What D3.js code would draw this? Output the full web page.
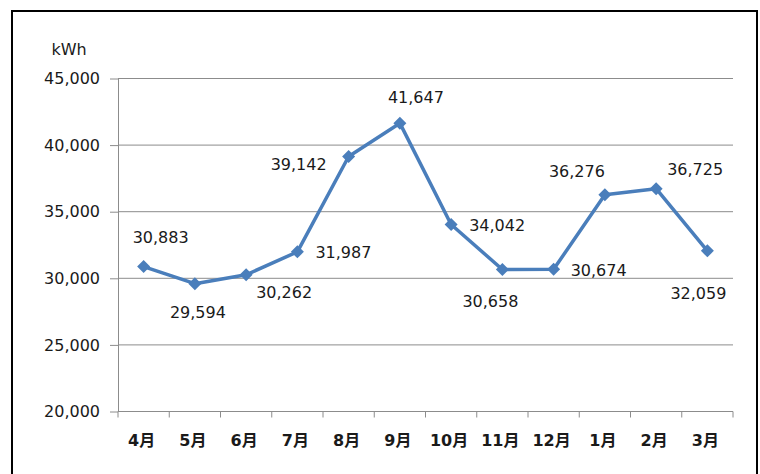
<!DOCTYPE html>
<html>
<head>
<meta charset="utf-8">
<script src="https://cdn.jsdelivr.net/npm/d3@7"></script>
<style>
  html, body { margin: 0; padding: 0; background: #fff; }
  svg { display: block; }
  text { font-family: "DejaVu Sans", "Noto Sans CJK JP", sans-serif; fill: #1a1a1a; }
</style>
</head>
<body>
<svg id="chart" width="760" height="474"></svg>
<script>
// Monthly electricity use (kWh), fiscal year April → March
const months = ["4月", "5月", "6月", "7月", "8月", "9月", "10月", "11月", "12月", "1月", "2月", "3月"];
const usage = [30883, 29594, 30262, 31987, 39142, 41647, 34042, 30658, 30674, 36276, 36725, 32059];
const yTicks = [20000, 25000, 30000, 35000, 40000, 45000];
const unitLabel = "kWh";

// Placement of each value label relative to its marker: [dx, dy to baseline]
const labelOffsets = [
  [17, -24], [3, 34], [38, 23], [46, 6], [-50, 13], [16, -20],
  [46, 7], [-12, 37], [45, 7], [-28, -18], [39, -14], [-9, 48]
];

const svg = d3.select("#chart");
const plot = { left: 118, right: 733, top: 78.5, bottom: 411.5 };

// Outer frame
svg.append("rect")
  .attr("x", 12).attr("y", 11)
  .attr("width", 745).attr("height", 480)
  .attr("fill", "none").attr("stroke", "#000").attr("stroke-width", 2);

const x = d3.scaleBand().domain(months).range([plot.left, plot.right]).padding(0);
const y = d3.scaleLinear().domain([20000, 45000]).range([plot.bottom, plot.top]);
const fmt = d3.format(",");

// Horizontal gridlines
svg.append("g")
  .selectAll("line")
  .data(yTicks.filter(t => t > 20000))
  .join("line")
  .attr("x1", plot.left).attr("x2", plot.right)
  .attr("y1", d => y(d)).attr("y2", d => y(d))
  .attr("stroke", "#8c8c8c").attr("stroke-width", 1);

// Y axis
const yAxis = svg.append("g")
  .attr("transform", `translate(${plot.left},0)`)
  .call(d3.axisLeft(y).tickValues(yTicks).tickFormat(fmt).tickSize(8).tickPadding(10).tickSizeOuter(0));
yAxis.select(".domain").attr("stroke", "#8c8c8c");
yAxis.selectAll(".tick line").attr("stroke", "#8c8c8c");
yAxis.selectAll(".tick text")
  .attr("font-size", 16)
  .attr("font-family", "DejaVu Sans, Noto Sans CJK JP, sans-serif")
  .attr("fill", "#1a1a1a");

// X axis, ticks on band boundaries
const xAxisG = svg.append("g").attr("transform", `translate(0,${plot.bottom})`);
xAxisG.append("line")
  .attr("x1", plot.left).attr("x2", plot.right)
  .attr("stroke", "#8c8c8c");
const bounds = months.map(m => x(m)).concat([plot.right]);
xAxisG.selectAll("line.tk")
  .data(bounds)
  .join("line")
  .attr("class", "tk")
  .attr("x1", d => d).attr("x2", d => d)
  .attr("y1", 0).attr("y2", 6)
  .attr("stroke", "#8c8c8c");
xAxisG.selectAll("text")
  .data(months)
  .join("text")
  .attr("x", d => x(d) + x.bandwidth() / 2 - 2)
  .attr("y", 34)
  .attr("text-anchor", "middle")
  .attr("font-size", 16)
  .attr("font-weight", "bold")
  .text(d => d);

// Unit label
svg.append("text")
  .attr("x", 69).attr("y", 55)
  .attr("text-anchor", "middle")
  .attr("font-size", 16)
  .text(unitLabel);

// Data line
const cx = (d, i) => x(months[i]) + x.bandwidth() / 2;
const line = d3.line().x(cx).y(d => y(d));
svg.append("path")
  .datum(usage)
  .attr("d", line)
  .attr("fill", "none")
  .attr("stroke", "#4a7ebb")
  .attr("stroke-width", 3.5)
  .attr("stroke-linejoin", "round");

// Diamond markers
svg.append("g")
  .selectAll("path")
  .data(usage)
  .join("path")
  .attr("transform", (d, i) => `translate(${cx(d, i)},${y(d)})`)
  .attr("d", "M0,-6.5L6.5,0L0,6.5L-6.5,0Z")
  .attr("fill", "#4a7ebb");

// Value labels
svg.append("g")
  .selectAll("text")
  .data(usage)
  .join("text")
  .attr("x", (d, i) => cx(d, i) + labelOffsets[i][0])
  .attr("y", (d, i) => y(d) + labelOffsets[i][1])
  .attr("text-anchor", "middle")
  .attr("font-size", 16)
  .text(d => fmt(d));
</script>
</body>
</html>
